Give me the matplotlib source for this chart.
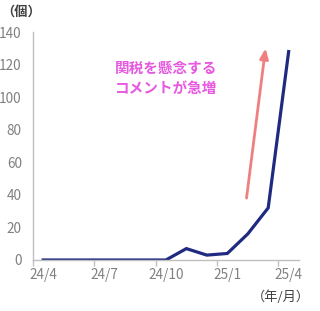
import numpy as np
import matplotlib.pyplot as plt
from matplotlib.ticker import FixedLocator

plt.rcParams['font.family'] = ['Noto Sans CJK JP', 'DejaVu Sans']

# monthly counts, 24/4 .. 25/4
months = ['24/4', '24/5', '24/6', '24/7', '24/8', '24/9', '24/10',
          '24/11', '24/12', '25/1', '25/2', '25/3', '25/4']
counts = [0, 0, 0, 0, 0, 0, 0, 7, 3, 4, 16, 32, 128]
label_months = ['24/4', '24/7', '24/10', '25/1', '25/4']
yticks = [0, 20, 40, 60, 80, 100, 120, 140]

fig = plt.figure(figsize=(3.2, 3.11), dpi=100)
ax = fig.add_axes([0.103, 0.164, 0.831, 0.733])

x = np.arange(len(months))
ax.plot(x, counts, color='#1F2A80', linewidth=2.3, solid_joinstyle='miter')

ax.set_xlim(-0.5, len(months) - 0.5)
ax.set_ylim(0, 140)

# labels on category centres, tick marks on category borders
lab_pos = [months.index(m) for m in label_months]
ax.set_xticks(lab_pos)
ax.set_xticklabels(label_months)
ax.xaxis.set_minor_locator(FixedLocator([p - 0.5 for p in lab_pos]))
ax.tick_params(axis='x', which='major', length=0, pad=6, labelsize=9.8, labelcolor='#808080')
ax.tick_params(axis='x', which='minor', length=4, color='#BFBFBF', width=1)

ax.set_yticks(yticks)
ax.tick_params(axis='y', length=0, pad=8, labelsize=9.8, labelcolor='#808080')

for s in ['top', 'right']:
    ax.spines[s].set_visible(False)
for s in ['left', 'bottom']:
    ax.spines[s].set_color('#BFBFBF')
    ax.spines[s].set_linewidth(1)

# annotation arrow and text
ax.annotate('', xy=(10.87, 130), xytext=(9.94, 38),
            arrowprops=dict(arrowstyle='-|>,head_width=0.25,head_length=0.6',
                            color='#F08080', lw=2,
                            mutation_scale=10, shrinkA=0, shrinkB=0))
fig.text(115 / 320, 1 - 68 / 311, '関税を懸念する', color='#E659E0',
         fontsize=10.5, fontweight='bold', va='center', ha='left')
fig.text(115 / 320, 1 - 88 / 311, 'コメントが急増', color='#E659E0',
         fontsize=10.5, fontweight='bold', va='center', ha='left')

fig.text(1 / 320, 1 - 12 / 311, '（個）', color='#404040', fontsize=9.5,
         fontweight='bold', va='center', ha='left')
fig.text(310 / 320, 1 - 297 / 311, '（年/月）', color='#404040', fontsize=9.5,
         va='center', ha='right')

fig.savefig('out.png', dpi=100)
